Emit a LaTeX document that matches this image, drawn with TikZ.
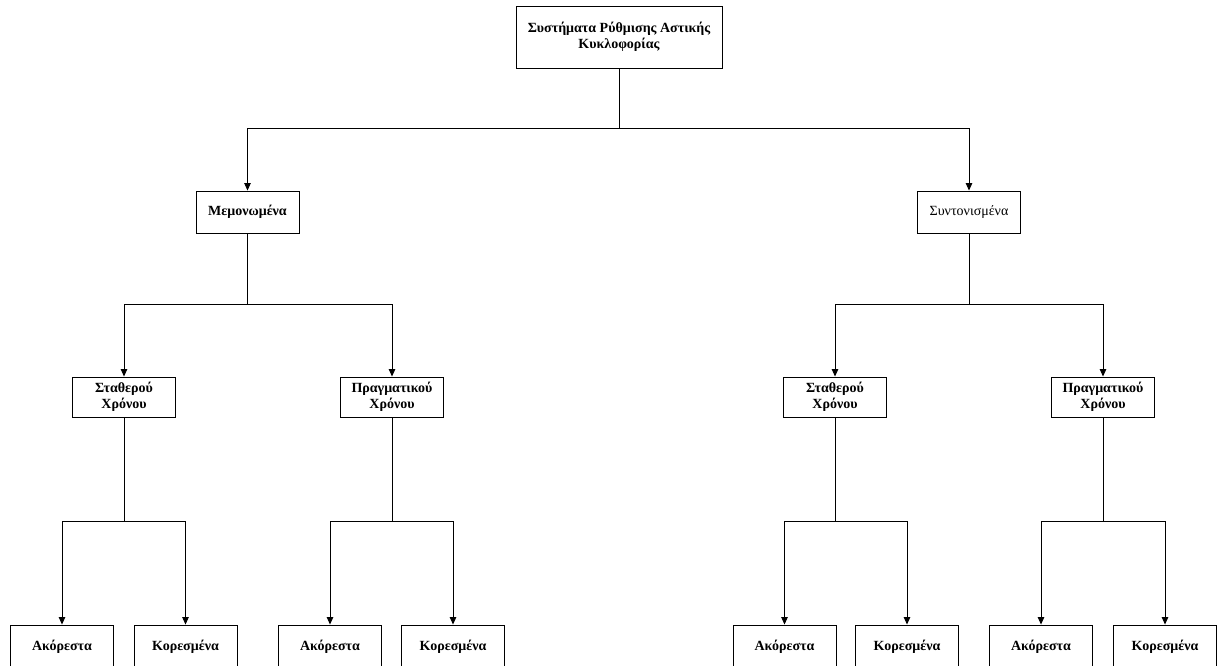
\documentclass[tikz,border=0pt]{standalone}
\usepackage{fontspec}
\setmainfont{Liberation Serif}
\usetikzlibrary{arrows.meta}
\begin{document}
\begin{tikzpicture}[x=1pt,y=-1pt,
  box/.style={draw,line width=0.9pt,minimum width=103pt,minimum height=40pt,
    inner sep=0pt,align=center,font=\bfseries\fontsize{14}{16}\selectfont},
  plain/.style={font=\fontsize{14}{16}\selectfont},
  leaf/.style={box,minimum height=44pt},
  link/.style={line width=0.9pt},
  arr/.style={link,-{Triangle[width=6.5pt,length=7.5pt]}}]
\useasboundingbox (0,0) rectangle (1217,666);

% root
\node[box,minimum width=206pt,minimum height=62pt] (root) at (619,37)
  {Συστήματα Ρύθμισης Αστικής\\Κυκλοφορίας};

% second level
\node[box,minimum height=42pt] (mem) at (247.5,212) {Μεμονωμένα};
\node[box,plain,minimum height=42pt] (syn) at (969,212) {Συντονισμένα};

% third level
\node[box] (ls) at (124,397) {Σταθερού\\Χρόνου};
\node[box] (lp) at (392,397) {Πραγματικού\\Χρόνου};
\node[box] (rs) at (835,397) {Σταθερού\\Χρόνου};
\node[box] (rp) at (1103,397) {Πραγματικού\\Χρόνου};

% leaves
\node[leaf] (lsa) at (62,647) {Ακόρεστα};
\node[leaf] (lsk) at (185.5,647) {Κορεσμένα};
\node[leaf] (lpa) at (330,647) {Ακόρεστα};
\node[leaf] (lpk) at (453,647) {Κορεσμένα};
\node[leaf] (rsa) at (784.5,647) {Ακόρεστα};
\node[leaf] (rsk) at (907,647) {Κορεσμένα};
\node[leaf] (rpa) at (1041,647) {Ακόρεστα};
\node[leaf] (rpk) at (1165,647) {Κορεσμένα};

% branch points
\coordinate (j0) at (619,128);
\coordinate (j1) at (247.5,304);
\coordinate (j2) at (969,304);
\coordinate (j3) at (124,521.5);
\coordinate (j4) at (392,521.5);
\coordinate (j5) at (835,521.5);
\coordinate (j6) at (1103,521.5);

% connectors
\draw[link] (root.south) -- (j0);
\draw[arr] (j0) -| (mem.north);
\draw[arr] (j0) -| (syn.north);

\draw[link] (mem.south) -- (j1);
\draw[arr] (j1) -| (ls.north);
\draw[arr] (j1) -| (lp.north);
\draw[link] (syn.south) -- (j2);
\draw[arr] (j2) -| (rs.north);
\draw[arr] (j2) -| (rp.north);

\draw[link] (ls.south) -- (j3);
\draw[arr] (j3) -| (lsa.north);
\draw[arr] (j3) -| (lsk.north);
\draw[link] (lp.south) -- (j4);
\draw[arr] (j4) -| (lpa.north);
\draw[arr] (j4) -| (lpk.north);
\draw[link] (rs.south) -- (j5);
\draw[arr] (j5) -| (rsa.north);
\draw[arr] (j5) -| (rsk.north);
\draw[link] (rp.south) -- (j6);
\draw[arr] (j6) -| (rpa.north);
\draw[arr] (j6) -| (rpk.north);
\end{tikzpicture}
\end{document}
